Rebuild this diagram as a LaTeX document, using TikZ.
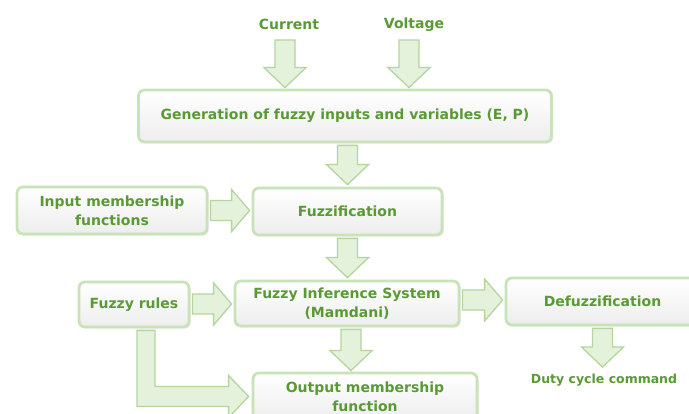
\documentclass[tikz,border=0pt]{standalone}
\usepackage{fontspec}
\setmainfont{DejaVu Sans}
\usetikzlibrary{calc,shadows}
\definecolor{txt}{HTML}{5A9A35}
\definecolor{bord}{HTML}{C9E3B8}
\definecolor{afill}{HTML}{E4F2DC}
\definecolor{aline}{HTML}{B4D69E}
\tikzset{
  box/.style={rounded corners=6pt, draw=bord, line width=2.8pt, top color=white, bottom color=gray!14,
    drop shadow={shadow xshift=1.5pt, shadow yshift=-1.5pt, opacity=0.25},
    text=txt, font=\bfseries\fontsize{14}{19}\selectfont, align=center, inner sep=0pt},
  lbl/.style={text=txt, font=\bfseries\fontsize{14}{19}\selectfont, inner sep=0pt},
  fatarr/.style={fill=afill, draw=aline, line width=1.3pt, line join=miter}
}
\newcommand{\vfat}[2]{\draw[fatarr] let \p1=(#1), \p2=(#2) in
  (\x1-10pt,\y1) -- (\x1+10pt,\y1) -- (\x1+10pt,\y2+20pt) -- (\x1+21pt,\y2+20pt) -- (\x1,\y2)
  -- (\x1-21pt,\y2+20pt) -- (\x1-10pt,\y2+20pt) -- cycle;}
\newcommand{\hfat}[2]{\draw[fatarr] let \p1=(#1), \p2=(#2) in
  (\x1,\y1-10pt) -- (\x2-18pt,\y1-10pt) -- (\x2-18pt,\y1-21pt) -- (\x2,\y1)
  -- (\x2-18pt,\y1+21pt) -- (\x2-18pt,\y1+10pt) -- (\x1,\y1+10pt) -- cycle;}
\begin{document}
\begin{tikzpicture}[x=1pt,y=1pt]
\useasboundingbox (0,0) rectangle (689,414);
\clip (0,0) rectangle (689,414);
\fill[white] (0,0) rectangle (689,414);
% labels
\node[lbl] (cur) at (289,390) {Current};
\node[lbl] (volt) at (414,389) {Voltage};
\node[lbl, font=\bfseries\fontsize{12.5}{16}\selectfont] (duty) at (604,34) {Duty cycle command};
% boxes
\node[box, minimum width=413pt, minimum height=52pt] (gen) at (345,298) {Generation of fuzzy inputs and variables (E, P)};
\node[box, minimum width=190pt, minimum height=47pt] (inp) at (112,203.5) {Input membership\\functions};
\node[box, minimum width=189pt, minimum height=47pt] (fuzz) at (347.5,202.5) {Fuzzification};
\node[box, minimum width=110pt, minimum height=45pt] (rules) at (134,109.5) {Fuzzy rules};
\node[box, minimum width=224pt, minimum height=45pt] (fis) at (347,110.5) {Fuzzy Inference System\\(Mamdani)};
\node[box, minimum width=193pt, minimum height=47pt, text width=193pt] (defz) at (602.5,112.5) {Defuzzification};
\node[box, minimum width=224pt, minimum height=47pt] (out) at (365,17.5) {Output membership\\function};
% arrows
\vfat{$(cur.center)+(-4,-16)$}{$(gen.north)+(0,1)$}
\vfat{$(volt.center)+(-5,-15)$}{$(gen.north)+(0,1)$}
\vfat{$(gen.south -| fuzz.north)+(0,-2)$}{$(fuzz.north)+(0,2)$}
\hfat{$(inp.east)+(2,0)$}{$(fuzz.west)+(-2,0)$}
\vfat{$(fuzz.south)+(0,-2)$}{$(fis.north)+(0,2)$}
\hfat{$(rules.east)+(2,0.5)$}{$(fis.west)+(-2,0)$}
\hfat{$(fis.east)+(2,3.5)$}{$(defz.west)+(-2,0)$}
\vfat{$(fis.south)+(4,-2)$}{$(out.north)+(0,1)$}
\vfat{$(defz.south)+(0,-2)$}{$(duty.center)+(0,13)$}
\draw[fatarr] let \p1=($(rules.south)+(12,-2)$), \p2=($(out.west)+(-3,0)$) in
  (\x1-9pt,\y1) -- (\x1-9pt,\y2-10pt) -- (\x2-20pt,\y2-10pt) -- (\x2-20pt,\y2-21pt) -- (\x2,\y2)
  -- (\x2-20pt,\y2+21pt) -- (\x2-20pt,\y2+10pt) -- (\x1+9pt,\y2+10pt) -- (\x1+9pt,\y1) -- cycle;
\end{tikzpicture}
\end{document}
